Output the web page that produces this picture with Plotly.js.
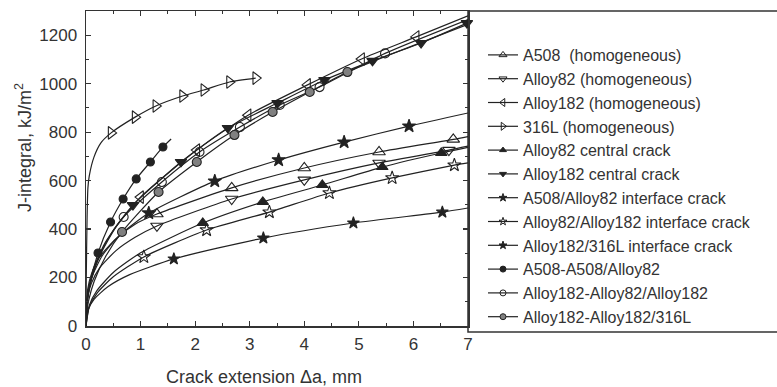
<!DOCTYPE html>
<html>
<head>
<meta charset="utf-8">
<script src="https://cdn.plot.ly/plotly-3.0.1.min.js"></script>
<style>html,body{margin:0;padding:0;background:#fff;}#chart{width:777px;height:387px;}</style>
</head>
<body>
<div id="chart"></div>
<script>
// ---- data (crack extension, mm ; J-integral, kJ/m2) ----
const seriesNames = [
  "A508\u00a0 (homogeneous)",
  "Alloy82 (homogeneous)",
  "Alloy182 (homogeneous)",
  "316L (homogeneous)",
  "Alloy82 central crack",
  "Alloy182 central crack",
  "A508/Alloy82 interface crack",
  "Alloy82/Alloy182 interface crack",
  "Alloy182/316L interface crack",
  "A508-A508/Alloy82",
  "Alloy182-Alloy82/Alloy182",
  "Alloy182-Alloy182/316L"
];

// A508 (homogeneous)
const a508X  = [0, 0.03, 0.1, 0.25, 0.55, 0.9, 1.30, 2.67, 4.00, 5.37, 6.73, 7];
const a508Y  = [0, 150, 215, 285, 360, 420, 462, 570, 652, 718, 770, 782];
const a508MX = [1.30, 2.67, 4.00, 5.37, 6.73];
const a508MY = [462, 570, 652, 718, 770];
// Alloy82 (homogeneous)
const a82X  = [0, 0.03, 0.1, 0.25, 0.55, 0.9, 1.30, 2.67, 4.00, 5.37, 6.65, 7];
const a82Y  = [0, 119, 177, 240, 311, 366, 413, 524, 603, 673, 726, 742];
const a82MX = [1.30, 2.67, 4.00, 5.37, 6.65];
const a82MY = [413, 524, 603, 673, 726];
// Alloy182 (homogeneous)
const a182X  = [0, 0.03, 0.1, 0.25, 0.55, 1.0, 2.03, 2.97, 4.06, 5.05, 6.05, 7];
const a182Y  = [0, 114, 193, 289, 409, 532, 726, 870, 995, 1102, 1193, 1280];
const a182MX = [1.0, 2.03, 2.97, 4.06, 5.05, 6.05];
const a182MY = [532, 726, 870, 995, 1102, 1193];
// 316L (homogeneous)
const s316X  = [0, 0.005, 0.02, 0.035, 0.06, 0.146, 0.27, 0.46, 0.90, 1.28, 1.77, 2.16, 2.63, 3.11];
const s316Y  = [0, 200, 450, 570, 620, 697, 755, 797, 862, 908, 949, 974, 1007, 1023];
const s316MX = [0.46, 0.90, 1.28, 1.77, 2.16, 2.63, 3.11];
const s316MY = [797, 862, 908, 949, 974, 1007, 1023];
// Alloy82 central crack
const c82X  = [0, 0.06, 0.2, 0.5, 1.0, 2.14, 3.24, 4.33, 5.43, 6.51, 7];
const c82Y  = [0, 85, 146, 221, 302, 425, 512, 582, 656, 714, 737];
const c82MX = [2.14, 3.24, 4.33, 5.43, 6.51];
const c82MY = [425, 512, 582, 656, 714];
// Alloy182 central crack
const c182X  = [0, 0.03, 0.1, 0.25, 0.5, 0.86, 1.74, 2.60, 3.51, 4.37, 5.25, 6.14, 6.98];
const c182Y  = [0, 118, 198, 293, 395, 499, 677, 817, 920, 1015, 1094, 1168, 1250];
const c182MX = [0.86, 1.74, 2.60, 3.51, 4.37, 5.25, 6.14, 6.98];
const c182MY = [499, 677, 817, 920, 1015, 1094, 1168, 1250];
// A508/Alloy82 interface crack
const i1X  = [0, 0.03, 0.1, 0.3, 0.6, 1.15, 2.36, 3.53, 4.73, 5.92, 7];
const i1Y  = [0, 130, 198, 291, 371, 466, 598, 685, 759, 825, 879];
const i1MX = [1.15, 2.36, 3.53, 4.73, 5.92];
const i1MY = [466, 598, 685, 759, 825];
// Alloy82/Alloy182 interface crack
const i2X  = [0, 0.06, 0.2, 0.5, 1.06, 2.21, 3.36, 4.46, 5.61, 6.75, 7];
const i2Y  = [0, 78, 135, 203, 285, 396, 470, 549, 611, 664, 673];
const i2MX = [1.06, 2.21, 3.36, 4.46, 5.61, 6.75];
const i2MY = [285, 396, 470, 549, 611, 664];
// Alloy182/316L interface crack
const i3X  = [0, 0.04, 0.15, 0.4, 0.8, 1.61, 3.25, 4.90, 6.53, 7];
const i3Y  = [0, 67, 111, 162, 212, 277, 363, 425, 470, 487];
const i3MX = [1.61, 3.25, 4.90, 6.53];
const i3MY = [277, 363, 425, 470];
// A508-A508/Alloy82
const b1X  = [0, 0.02, 0.07, 0.22, 0.45, 0.68, 0.92, 1.18, 1.41, 1.56];
const b1Y  = [0, 91, 170, 301, 429, 524, 607, 677, 739, 772];
const b1MX = [0.22, 0.45, 0.68, 0.92, 1.18, 1.41];
const b1MY = [301, 429, 524, 607, 677, 739];
// Alloy182-Alloy82/Alloy182
const b2X  = [0, 0.015, 0.05, 0.15, 0.35, 0.69, 1.39, 2.08, 2.82, 3.55, 4.28, 5.48, 7];
const b2Y  = [0, 97, 157, 244, 343, 450, 594, 718, 821, 912, 986, 1125, 1265];
const b2MX = [0.69, 1.39, 2.08, 2.82, 3.55, 4.28, 5.48];
const b2MY = [450, 594, 718, 821, 912, 986, 1125];
// Alloy182-Alloy182/316L
const b3X  = [0, 0.015, 0.05, 0.15, 0.35, 0.66, 1.33, 2.03, 2.72, 3.42, 4.10, 4.79, 7];
const b3Y  = [0, 58, 107, 185, 283, 388, 553, 677, 788, 883, 966, 1048, 1245];
const b3MX = [0.66, 1.33, 2.03, 2.72, 3.42, 4.10, 4.79];
const b3MY = [388, 553, 677, 788, 883, 966, 1048];

const xTicks = [0, 1, 2, 3, 4, 5, 6, 7];
const yTicks = [0, 200, 400, 600, 800, 1000, 1200];

// ---- styles ----
const INK = '#222222';
const TXT = '#333333';
const styles = [
  {sym: 'triangle-up-open',    fill: INK, size: 11},
  {sym: 'triangle-down-open',  fill: INK, size: 11},
  {sym: 'triangle-left-open',  fill: INK, size: 11},
  {sym: 'triangle-right-open', fill: INK, size: 11},
  {sym: 'triangle-up',         fill: INK, size: 10},
  {sym: 'triangle-down',       fill: INK, size: 10},
  {sym: 'star',                fill: INK, size: 10},
  {sym: 'star-open',           fill: INK, size: 10},
  {sym: 'star',                fill: INK, size: 9},
  {sym: 'circle',              fill: INK, size: 8},
  {sym: 'circle-open',         fill: INK, size: 9},
  {sym: 'circle',              fill: '#808080', size: 9}
];
const curves = [
  [a508X, a508Y, a508MX, a508MY],
  [a82X, a82Y, a82MX, a82MY],
  [a182X, a182Y, a182MX, a182MY],
  [s316X, s316Y, s316MX, s316MY],
  [c82X, c82Y, c82MX, c82MY],
  [c182X, c182Y, c182MX, c182MY],
  [i1X, i1Y, i1MX, i1MY],
  [i2X, i2Y, i2MX, i2MY],
  [i3X, i3Y, i3MX, i3MY],
  [b1X, b1Y, b1MX, b1MY],
  [b2X, b2Y, b2MX, b2MY],
  [b3X, b3Y, b3MX, b3MY]
];

const traces = [];
curves.forEach((c, i) => {
  traces.push({
    type: 'scatter', mode: 'lines', x: c[0], y: c[1],
    line: {color: INK, width: 1.2, shape: 'spline', smoothing: 0.6},
    showlegend: false, hoverinfo: 'skip'
  });
});
curves.forEach((c, i) => {
  const s = styles[i];
  traces.push({
    type: 'scatter', mode: 'markers', x: c[2], y: c[3],
    marker: {symbol: s.sym, size: s.size, color: s.fill,
             line: {color: INK, width: 1.1}},
    showlegend: false, cliponaxis: false
  });
});
// legend entries
curves.forEach((c, i) => {
  const s = styles[i];
  traces.push({
    type: 'scatter', mode: 'lines+markers', x: [null], y: [null],
    name: seriesNames[i],
    line: {color: INK, width: 1.2},
    marker: {symbol: s.sym, size: Math.max(6, s.size - 4), color: s.fill,
             line: {color: INK, width: 1}},
    showlegend: true
  });
});

const L = 86, R = 468, T = 11, B = 326;
const pw = R - L, ph = B - T;
const px = v => (v - L) / pw;
const py = v => (B - v) / ph;

const axisCommon = {
  showline: true, linecolor: '#333', linewidth: 1.5, mirror: 'ticks',
  ticks: 'inside', ticklen: 5, tickcolor: '#333', tickwidth: 1.2,
  showgrid: false, zeroline: false,
  tickfont: {family: 'Liberation Sans, Arial, sans-serif', size: 17, color: TXT}
};

const layout = {
  width: 777, height: 387,
  margin: {l: L, r: 777 - R, t: T, b: 387 - B, pad: 0},
  paper_bgcolor: '#fff', plot_bgcolor: '#fff',
  font: {family: 'Liberation Sans, Arial, sans-serif', color: TXT},
  xaxis: Object.assign({}, axisCommon, {
    range: [0, 7], tickvals: xTicks, ticktext: xTicks.map(String),
    ticklabelstandoff: 2,
    minor: {ticks: 'inside', ticklen: 3, dtick: 0.5, tickcolor: '#333', tickwidth: 1}
  }),
  yaxis: Object.assign({}, axisCommon, {
    range: [0, 1300], tickvals: yTicks, ticktext: yTicks.map(String),
    ticklabelstandoff: 4,
    minor: {ticks: 'inside', ticklen: 3, dtick: 100, tickcolor: '#333', tickwidth: 1}
  }),
  showlegend: true,
  legend: {
    x: px(483), y: py(38), xanchor: 'left', yanchor: 'top',
    bgcolor: 'rgba(0,0,0,0)', borderwidth: 0,
    font: {family: 'Liberation Sans, Arial, sans-serif', size: 16, color: TXT},
    traceorder: 'normal', itemwidth: 30
  },
  shapes: [{
    type: 'rect', xref: 'paper', yref: 'paper',
    x0: 1, x1: px(782), y0: py(332), y1: 1,
    line: {color: '#333', width: 1.5}, fillcolor: 'rgba(0,0,0,0)', layer: 'below'
  }],
  annotations: [
    {text: 'Crack extension \u0394a, mm', xref: 'paper', yref: 'paper',
     x: px(264), y: py(377), xanchor: 'center', yanchor: 'middle', showarrow: false,
     font: {family: 'Liberation Sans, Arial, sans-serif', size: 18, color: TXT}},
    {text: 'J-integral, kJ/m<sup>2</sup>', xref: 'paper', yref: 'paper',
     x: px(23), y: py(148), xanchor: 'center', yanchor: 'middle', showarrow: false,
     textangle: -90,
     font: {family: 'Liberation Sans, Arial, sans-serif', size: 18, color: TXT}}
  ]
};

Plotly.newPlot('chart', traces, layout, {displayModeBar: false, staticPlot: true});
</script>
</body>
</html>
